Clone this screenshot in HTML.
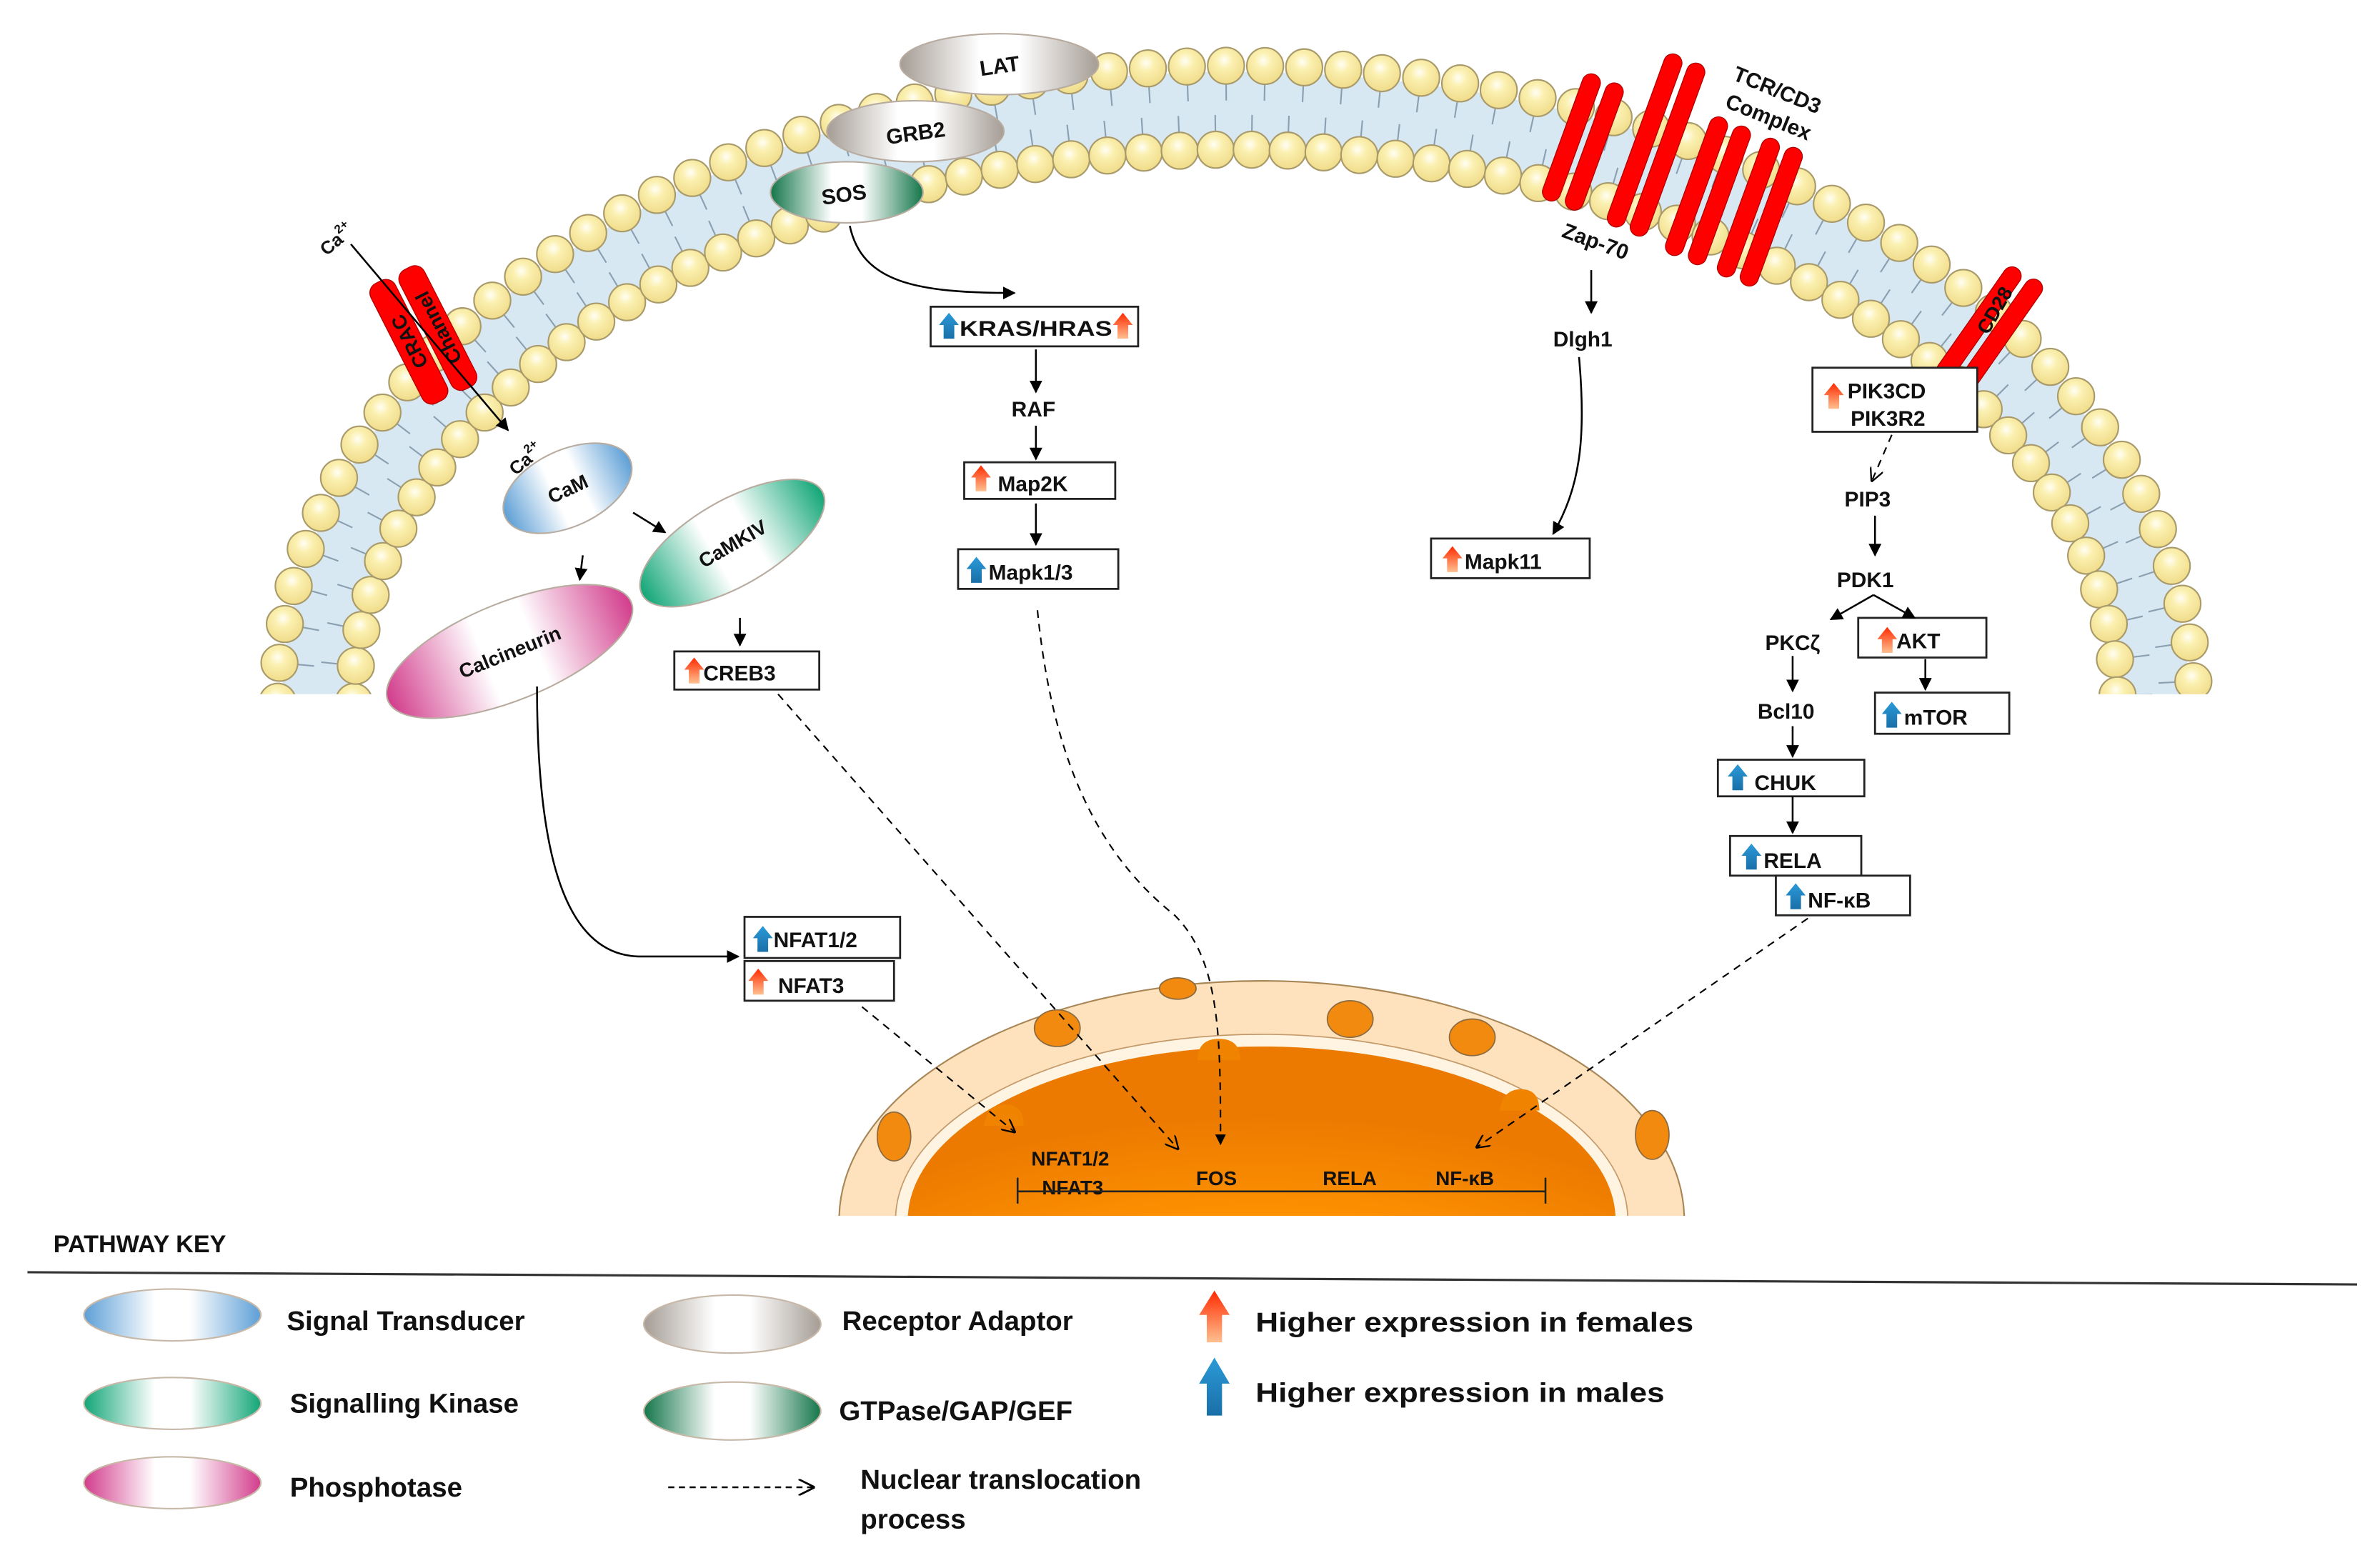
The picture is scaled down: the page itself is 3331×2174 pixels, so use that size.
<!DOCTYPE html>
<html><head><meta charset="utf-8"><style>
html,body{margin:0;padding:0;background:#fff}
svg{display:block}
text{font-family:"Liberation Sans",Arial,sans-serif;font-weight:bold;fill:#111}
</style></head><body>
<svg id="s" width="3331" height="2174" viewBox="0 0 1560 1018" xmlns="http://www.w3.org/2000/svg">
<defs>
<radialGradient id="bead" cx="0.45" cy="0.35" r="0.65"><stop offset="0" stop-color="#fffef4"/><stop offset="0.35" stop-color="#fbf0b0"/><stop offset="1" stop-color="#f0dc8a"/></radialGradient>
<linearGradient id="gBlue"><stop offset="0" stop-color="#5d9fd6"/><stop offset="0.4" stop-color="#fff"/><stop offset="0.6" stop-color="#fff"/><stop offset="1" stop-color="#5d9fd6"/></linearGradient>
<linearGradient id="gGreen"><stop offset="0" stop-color="#12a677"/><stop offset="0.4" stop-color="#fff"/><stop offset="0.6" stop-color="#fff"/><stop offset="1" stop-color="#12a677"/></linearGradient>
<linearGradient id="gDGreen"><stop offset="0" stop-color="#14764a"/><stop offset="0.4" stop-color="#fff"/><stop offset="0.6" stop-color="#fff"/><stop offset="1" stop-color="#14764a"/></linearGradient>
<linearGradient id="gPink"><stop offset="0" stop-color="#d23c8c"/><stop offset="0.4" stop-color="#fff"/><stop offset="0.6" stop-color="#fff"/><stop offset="1" stop-color="#d23c8c"/></linearGradient>
<linearGradient id="gGray"><stop offset="0" stop-color="#a59d95"/><stop offset="0.4" stop-color="#fff"/><stop offset="0.6" stop-color="#fff"/><stop offset="1" stop-color="#a59d95"/></linearGradient>
<linearGradient id="upR" x1="0" y1="1" x2="0" y2="0"><stop offset="0" stop-color="#ffc090"/><stop offset="1" stop-color="#ff2a00"/></linearGradient>
<linearGradient id="upB" x1="0" y1="1" x2="0" y2="0"><stop offset="0" stop-color="#1a6fa8"/><stop offset="1" stop-color="#2a9ad8"/></linearGradient>
<radialGradient id="nucl" cx="0.5" cy="1" r="0.8"><stop offset="0" stop-color="#ff9c18"/><stop offset="0.6" stop-color="#ff9400"/><stop offset="1" stop-color="#ec7a00"/></radialGradient>
<clipPath id="cm"><rect x="0" y="0" width="1560" height="455"/></clipPath>
<clipPath id="cn"><rect x="0" y="0" width="1560" height="797"/></clipPath>
<marker id="ah" viewBox="0 0 10 10" refX="9" refY="5" markerWidth="7" markerHeight="7" orient="auto-start-reverse"><path d="M0,0 L10,5 L0,10 z" fill="#000"/></marker>
<marker id="oh" viewBox="0 0 10 10" refX="9" refY="5" markerWidth="9" markerHeight="9" orient="auto"><path d="M0,0 L10,5 L0,10" fill="none" stroke="#000" stroke-width="1.2"/></marker>
<g id="up"><path d="M-3.5,0 L-3.5,-9 L-6.5,-9 L0,-17 L6.5,-9 L3.5,-9 L3.5,0 z"/></g>
</defs>

<!-- membrane -->
<g clip-path="url(#cm)">
<path d="M185,460 A625,413 0 0 1 1435,460 L1392,460 A582,366 0 0 0 228,460 z" fill="#d8e8f3"/>
<g id="beads"></g>
</g>

<!-- nucleus -->
<g clip-path="url(#cn)">
<ellipse cx="827" cy="800" rx="277" ry="157" fill="#fde2bd" stroke="#a88656" stroke-width="1"/>
<ellipse cx="827" cy="800" rx="240" ry="122" fill="#fff4e2" stroke="#c49a6a" stroke-width="0.8"/>
<ellipse cx="827" cy="800" rx="232" ry="114" fill="url(#nucl)"/>
<path d="M645,738 q2,-14 14,-14 q12,0 12,14 z" fill="#f08400"/>
<path d="M785,695 q0,-14 14,-14 q14,0 14,14 z" fill="#f08400"/>
<path d="M983,728 q2,-14 14,-14 q12,0 12,14 z" fill="#f08400"/>
<g fill="#f28a10" stroke="#8a6a40" stroke-width="0.8">
<ellipse cx="772" cy="648" rx="12" ry="7"/>
<ellipse cx="693" cy="674" rx="15" ry="12"/>
<ellipse cx="586" cy="745" rx="11" ry="16"/>
<ellipse cx="885" cy="668" rx="15" ry="12"/>
<ellipse cx="965" cy="680" rx="15" ry="12"/>
<ellipse cx="1083" cy="744" rx="11" ry="16"/>
</g>
</g>

<!-- TCR/CD3 cylinders -->
<g fill="#f00" stroke="#b00000" stroke-width="0.6">
<rect x="-6" y="-44" width="12" height="88" rx="6" transform="translate(1030,90) rotate(20)"/>
<rect x="-6" y="-44" width="12" height="88" rx="6" transform="translate(1045,96) rotate(20)"/>
<rect x="-6" y="-60" width="12" height="120" rx="6" transform="translate(1078,92) rotate(20)"/>
<rect x="-6" y="-60" width="12" height="120" rx="6" transform="translate(1093,98) rotate(20)"/>
<rect x="-6" y="-48" width="12" height="96" rx="6" transform="translate(1112,122) rotate(20)"/>
<rect x="-6" y="-48" width="12" height="96" rx="6" transform="translate(1127,128) rotate(20)"/>
<rect x="-6" y="-48" width="12" height="96" rx="6" transform="translate(1146,136) rotate(20)"/>
<rect x="-6" y="-48" width="12" height="96" rx="6" transform="translate(1161,142) rotate(20)"/>
<rect x="-6" y="-44" width="12" height="88" rx="6" transform="translate(1297,212) rotate(35)"/>
<rect x="-6" y="-44" width="12" height="88" rx="6" transform="translate(1311,220) rotate(35)"/>
<rect x="-9" y="-44" width="18" height="88" rx="7" transform="translate(268,224) rotate(-27)"/>
<rect x="-9" y="-44" width="18" height="88" rx="7" transform="translate(287,215) rotate(-27)"/>
</g>
<text transform="translate(1135,52) rotate(22)" font-size="14">TCR/CD3</text>
<text transform="translate(1130,70) rotate(22)" font-size="14">Complex</text>
<text transform="translate(1303,220) rotate(-60)" font-size="13">CD28</text>
<text transform="translate(268,224) rotate(-117)" font-size="13" text-anchor="middle" dy="5">CRAC</text>
<text transform="translate(287,215) rotate(-117)" font-size="13" text-anchor="middle" dy="5">Channel</text>

<!-- ellipse proteins -->
<ellipse cx="655" cy="42" rx="65" ry="20" fill="url(#gGray)" stroke="#b8aca0"/>
<text x="655" y="48" font-size="14" text-anchor="middle" transform="rotate(-8 655 42)">LAT</text>
<ellipse cx="600" cy="86" rx="58" ry="20" fill="url(#gGray)" stroke="#b8aca0"/>
<text x="600" y="92" font-size="14" text-anchor="middle" transform="rotate(-8 600 86)">GRB2</text>
<ellipse cx="555" cy="126" rx="50" ry="20" fill="url(#gDGreen)" stroke="#b8aca0"/>
<text x="553" y="132" font-size="14" text-anchor="middle" transform="rotate(-8 555 126)">SOS</text>
<g transform="translate(372,320) rotate(-25)"><ellipse rx="45" ry="25" fill="url(#gBlue)" stroke="#b8aca0"/><text y="5" font-size="13" text-anchor="middle">CaM</text></g>
<g transform="translate(480,356) rotate(-30)"><ellipse rx="68" ry="28" fill="url(#gGreen)" stroke="#b8aca0"/><text y="5" font-size="13" text-anchor="middle">CaMKIV</text></g>
<g transform="translate(334,427) rotate(-22)"><ellipse rx="86" ry="32" fill="url(#gPink)" stroke="#b8aca0"/><text y="5" font-size="13" text-anchor="middle">Calcineurin</text></g>

<!-- Ca labels -->
<text transform="translate(214,168) rotate(-40)" font-size="12">Ca<tspan font-size="8" dy="-6">2+</tspan></text>
<text transform="translate(338,312) rotate(-40)" font-size="12">Ca<tspan font-size="8" dy="-6">2+</tspan></text>

<!-- boxes -->
<g fill="#fff" stroke="#222" stroke-width="1.3">
<rect x="610" y="201" width="136" height="26"/>
<rect x="632" y="303" width="99" height="24"/>
<rect x="628" y="360" width="105" height="26"/>
<rect x="938" y="353" width="104" height="26"/>
<rect x="1188" y="241" width="108" height="42"/>
<rect x="1218" y="405" width="84" height="26"/>
<rect x="1229" y="454" width="88" height="27"/>
<rect x="1126" y="498" width="96" height="24"/>
<rect x="1134" y="548" width="86" height="26"/>
<rect x="1164" y="574" width="88" height="26"/>
<rect x="442" y="427" width="95" height="25"/>
<rect x="488" y="601" width="102" height="27"/>
<rect x="488" y="630" width="98" height="26"/>
</g>
<g fill="url(#upB)">
<use href="#up" x="622" y="222"/><use href="#up" x="640" y="382"/><use href="#up" x="1240" y="477"/>
<use href="#up" x="1139" y="518"/><use href="#up" x="1148" y="570"/><use href="#up" x="1177" y="596"/><use href="#up" x="500" y="624"/>
</g>
<g fill="url(#upR)">
<use href="#up" x="736" y="222"/><use href="#up" x="643" y="322"/><use href="#up" x="952" y="375"/>
<use href="#up" x="1202" y="268"/><use href="#up" x="1237" y="428"/><use href="#up" x="455" y="448"/><use href="#up" x="497" y="652"/>
</g>
<g font-size="14">
<text x="629" y="220" textLength="100" lengthAdjust="spacingAndGlyphs">KRAS/HRAS</text>
<text x="654" y="322">Map2K</text>
<text x="648" y="380">Mapk1/3</text>
<text x="960" y="373">Mapk11</text>
<text x="1211" y="261">PIK3CD</text>
<text x="1213" y="279">PIK3R2</text>
<text x="1243" y="425">AKT</text>
<text x="1248" y="475">mTOR</text>
<text x="1150" y="518">CHUK</text>
<text x="1156" y="569">RELA</text>
<text x="1185" y="595">NF-κB</text>
<text x="461" y="446">CREB3</text>
<text x="507" y="621">NFAT1/2</text>
<text x="510" y="651">NFAT3</text>
<text x="663" y="273">RAF</text>
<text x="1018" y="227">Dlgh1</text>
<text transform="translate(1023,155) rotate(20)">Zap-70</text>
<text x="1209" y="332">PIP3</text>
<text x="1204" y="385">PDK1</text>
<text x="1157" y="426">PKCζ</text>
<text x="1152" y="471">Bcl10</text>
</g>
<g font-size="13">
<text x="676" y="764">NFAT1/2</text>
<text x="683" y="783">NFAT3</text>
<text x="784" y="777">FOS</text>
<text x="867" y="777">RELA</text>
<text x="941" y="777">NF-κB</text>
</g>
<path d="M667,772 V789 M667,781 H1013 M1013,772 V789" stroke="#222" stroke-width="1.2" fill="none"/>

<!-- connectors solid -->
<g stroke="#000" stroke-width="1.2" fill="none" marker-end="url(#ah)">
<path d="M230,160 L333,282"/>
<path d="M382,364 L380,380"/>
<path d="M415,336 L436,349"/>
<path d="M485,405 L485,423"/>
<path d="M352,450 C352,560 370,627 420,627 L484,627"/>
<path d="M557,148 C565,185 600,192 665,192"/>
<path d="M679,229 L679,257"/>
<path d="M679,279 L679,301"/>
<path d="M679,330 L679,357"/>
<path d="M1043,177 L1043,205"/>
<path d="M1035,234 C1040,290 1035,320 1018,350"/>
<path d="M1229,338 L1229,364"/>
<path d="M1228,390 L1200,406"/>
<path d="M1228,390 L1255,405"/>
<path d="M1175,430 L1175,453"/>
<path d="M1175,476 L1175,496"/>
<path d="M1175,522 L1175,546"/>
<path d="M1262,432 L1262,452"/>
</g>
<!-- dashed -->
<g stroke="#000" stroke-width="1" fill="none" stroke-dasharray="5,4">
<path d="M680,400 C690,500 720,560 770,600 C800,630 800,680 800,750" marker-end="url(#ah)"/>
<path d="M510,455 L772,753" marker-end="url(#oh)"/>
<path d="M565,660 L665,742" marker-end="url(#oh)"/>
<path d="M1185,602 L968,752" marker-end="url(#oh)"/>
<path d="M1240,285 L1227,315" marker-end="url(#oh)"/>
</g>

<!-- legend -->
<text x="35" y="821" font-size="16">PATHWAY KEY</text>
<line x1="18" y1="834" x2="1545" y2="842" stroke="#333" stroke-width="1.5"/>
<ellipse cx="113" cy="862" rx="58" ry="17" fill="url(#gBlue)" stroke="#c8b8a8"/>
<ellipse cx="113" cy="920" rx="58" ry="17" fill="url(#gGreen)" stroke="#c8b8a8"/>
<ellipse cx="113" cy="972" rx="58" ry="17" fill="url(#gPink)" stroke="#c8b8a8"/>
<ellipse cx="480" cy="868" rx="58" ry="19" fill="url(#gGray)" stroke="#c8b8a8"/>
<ellipse cx="480" cy="925" rx="58" ry="19" fill="url(#gDGreen)" stroke="#c8b8a8"/>
<g font-size="18">
<text x="188" y="872">Signal Transducer</text>
<text x="190" y="926">Signalling Kinase</text>
<text x="190" y="981">Phosphotase</text>
<text x="552" y="872">Receptor Adaptor</text>
<text x="550" y="931">GTPase/GAP/GEF</text>
<text x="564" y="976">Nuclear translocation</text>
<text x="564" y="1002">process</text>
<text x="823" y="873" textLength="287" lengthAdjust="spacingAndGlyphs">Higher expression in females</text>
<text x="823" y="919" textLength="268" lengthAdjust="spacingAndGlyphs">Higher expression in males</text>
</g>
<path d="M438,975 L533,975" stroke="#000" stroke-width="1.2" stroke-dasharray="4,3" marker-end="url(#oh)"/>
<path d="M791,880 L791,862 L786,862 L796,846 L806,862 L801,862 L801,880 z" fill="url(#upR)"/>
<path d="M791,928 L791,907 L786,907 L796,890 L806,907 L801,907 L801,928 z" fill="url(#upB)"/>
</svg>
<script>
(function(){
var g=document.getElementById('beads'),ns='http://www.w3.org/2000/svg',cx=810,cy=460;
function ring(rx,ry,r,sp,tick){
 var pts=[],N=4000,acc=0,px=cx-rx,py=cy;
 for(var i=0;i<=N;i++){var t=Math.PI*i/N,x=cx-rx*Math.cos(t),y=cy-ry*Math.sin(t);
  acc+=Math.hypot(x-px,y-py);px=x;py=y;
  if(i==0||acc>=sp){acc=0;pts.push([x,y,t]);}}
 pts.forEach(function(p){
  var nx=Math.cos(p[2])*ry,ny=Math.sin(p[2])*rx,l=Math.hypot(nx,ny);nx/=l;ny/=l;
  var l1=document.createElementNS(ns,'line');
  l1.setAttribute('x1',p[0]+nx*tick*r*0.6);l1.setAttribute('y1',p[1]+ny*tick*r*0.6);
  l1.setAttribute('x2',p[0]+nx*tick*r*1.9);l1.setAttribute('y2',p[1]+ny*tick*r*1.9);
  l1.setAttribute('stroke','#8aa0b0');l1.setAttribute('stroke-width','1');g.appendChild(l1);
 });
 pts.forEach(function(p){
  var c=document.createElementNS(ns,'circle');c.setAttribute('cx',p[0]);c.setAttribute('cy',p[1]);c.setAttribute('r',r);
  c.setAttribute('fill','url(#bead)');c.setAttribute('stroke','#a89a6a');c.setAttribute('stroke-width','1');g.appendChild(c);
 });
}
ring(628,417,12,25.5,1);
ring(578,362,12,23.5,-1);
})();
</script>
</body></html>
